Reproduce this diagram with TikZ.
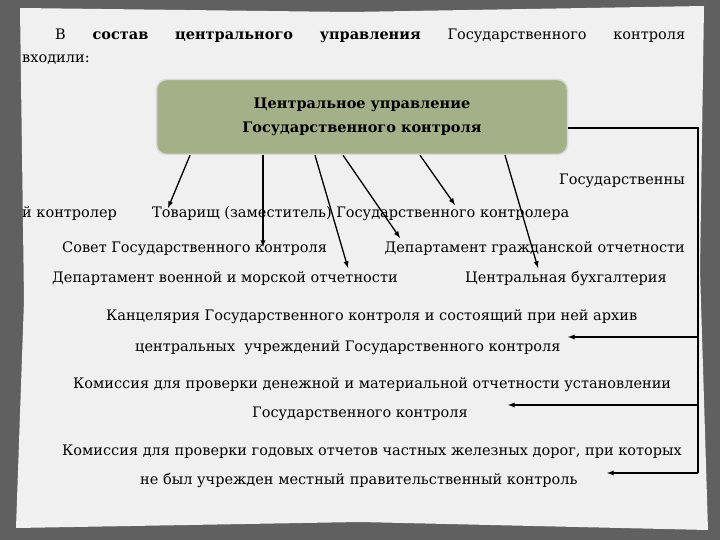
\documentclass[tikz,border=0pt]{standalone}
\usepackage{fontspec}
\setmainfont{DejaVu Serif}
\begin{document}
\begin{tikzpicture}[x=1pt,y=-1pt,
  txt/.style={inner sep=0pt,font=\fontsize{14.5}{17}\selectfont},
  arr/.style={-latex,line width=1.3pt},
  lnk/.style={line width=1.5pt}]
\fill[gray!75!black] (0,0) rectangle (720,540);
\fill[gray!12] (20,8) -- (350,12) -- (704,6) -- (700,270) -- (708,530) -- (360,522) -- (16,528) -- (24,300) -- cycle;
\node[draw=white!70!gray,line width=1.5pt,fill={rgb,255:red,163;green,176;blue,136},rounded corners=10pt,minimum width=411pt,minimum height=75pt] (box) at (362,117) {};
\node[txt,font=\fontsize{14.5}{24}\selectfont\bfseries,align=center] (boxt) at (362,117) {Центральное управление\\Государственного контроля};
\node[txt,anchor=base west] (t1) at (55,40) {\hbox to 630pt{В\hfill\textbf{состав}\hfill\textbf{центрального}\hfill\textbf{управления}\hfill Государственного\hfill контроля}};
\node[txt,anchor=base west] (t2) at (22,63) {входили:};
\node[txt,anchor=base east] (a0) at (685,185) {Государственны};
\node[txt,anchor=base west] (a1) at (22,218) {й контролер};
\node[txt,anchor=base west] (a2) at (152,218) {Товарищ (заместитель) Государственного контролера};
\node[txt,anchor=base west] (a3) at (62,252) {Совет Государственного контроля};
\node[txt,anchor=base east] (a4) at (685,252) {Департамент гражданской отчетности};
\node[txt,anchor=base west] (a5) at (52,282) {Департамент военной и морской отчетности};
\node[txt,anchor=base west] (a6) at (465,282) {Центральная бухгалтерия};
\node[txt,anchor=base west] (b1) at (106,320) {Канцелярия Государственного контроля и состоящий при ней архив};
\node[txt,anchor=base west] (b2) at (135,351) {центральных\ \ учреждений Государственного контроля};
\node[txt,anchor=base west] (c1) at (73,388) {Комиссия для проверки денежной и материальной отчетности установлении};
\node[txt,anchor=base west] (c2) at (252,417) {Государственного контроля};
\node[txt,anchor=base west] (d1) at (62,455) {Комиссия для проверки годовых отчетов частных железных дорог, при которых};
\node[txt,anchor=base west] (d2) at (140,484) {не был учрежден местный правительственный контроль};
\coordinate (e1) at (168,208);
\coordinate (e2) at (263,247);
\coordinate (e3) at (348,268);
\coordinate (e4) at (400,238);
\coordinate (e5) at (455,205);
\coordinate (e6) at (538,268);
\draw[arr] (box.south -| 190,0) -- (e1);
\draw[arr] (box.south -| 263,0) -- (e2);
\draw[arr] (box.south -| 315,0) -- (e3);
\draw[arr] (box.south -| 343,0) -- (e4);
\draw[arr] (box.south -| 420,0) -- (e5);
\draw[arr] (box.south -| 505,0) -- (e6);
\coordinate (r0) at (698,128);
\coordinate (r1) at (698,473);
\coordinate (f1) at (568,337);
\coordinate (f2) at (508,405);
\coordinate (f3) at (607,473);
\draw[lnk] (box.east |- r0) -- (r0) -- (r1);
\draw[arr] (r0 |- f1) -- (f1);
\draw[arr] (r0 |- f2) -- (f2);
\draw[arr] (r1) -- (f3);
\end{tikzpicture}
\end{document}
